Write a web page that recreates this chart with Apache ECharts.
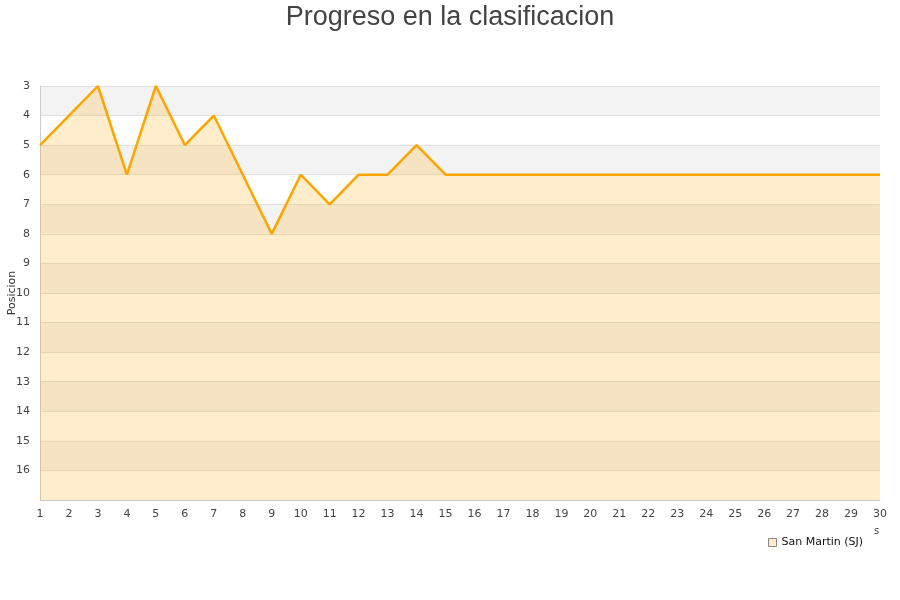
<!DOCTYPE html>
<html>
<head>
<meta charset="utf-8">
<script src="https://cdn.jsdelivr.net/npm/echarts@6/dist/echarts.min.js"></script>
<style>html,body{margin:0;padding:0;background:#fff}#c{width:900px;height:600px}</style>
</head>
<body>
<div id="c"></div>
<script>
var jornadas = ['1','2','3','4','5','6','7','8','9','10','11','12','13','14','15','16','17','18','19','20','21','22','23','24','25','26','27','28','29','30'];
var posiciones = [5,4,3,6,3,5,4,6,8,6,7,6,6,5,6,6,6,6,6,6,6,6,6,6,6,6,6,6,6,6];
var serieNombre = 'San Martin (SJ)';
var titulo = 'Progreso en la clasificacion';

var chart = echarts.init(document.getElementById('c'));
chart.setOption({
  animation: false,
  title: {
    text: titulo, left: 'center', top: -1,
    textStyle: {fontFamily: 'Liberation Sans', fontSize: 27, fontWeight: 'normal', color: '#444'}
  },
  legend: {
    data: [{name: serieNombre, icon: 'rect', itemStyle: {color: '#feebc9', borderColor: '#888', borderWidth: 1}}],
    left: 763, top: 532, itemWidth: 8, itemHeight: 8, itemGap: 10,
    textStyle: {fontFamily: 'DejaVu Sans', fontSize: 11, color: '#111'}
  },
  grid: {left: 40, right: 20, top: 86, bottom: 100, containLabel: false, outerBoundsMode: 'none'},
  xAxis: {
    type: 'category', data: jornadas, boundaryGap: false,
    name: 's', nameLocation: 'end', nameGap: -6,
    nameTextStyle: {fontFamily: 'DejaVu Sans', fontSize: 10, color: '#444', padding: [26, 0, 0, 0], verticalAlign: 'top'},
    axisLine: {lineStyle: {color: '#ccc'}},
    axisTick: {show: false},
    axisLabel: {fontFamily: 'DejaVu Sans', fontSize: 11, color: '#444', margin: 9, interval: 0},
    splitLine: {show: false}
  },
  yAxis: {
    type: 'value', inverse: true, min: 3, max: 17, interval: 1,
    name: 'Posicion', nameLocation: 'middle', nameGap: 22, nameMoveOverlap: false,
    nameTextStyle: {fontFamily: 'DejaVu Sans', fontSize: 11, color: '#333'},
    axisLine: {show: true, lineStyle: {color: '#ccc'}},
    axisTick: {show: false},
    axisLabel: {fontFamily: 'DejaVu Sans', fontSize: 11, color: '#444', margin: 10,
      formatter: function (v) { return v === 17 ? '' : v; }},
    splitLine: {show: true, lineStyle: {color: '#e0e0e0'}},
    splitArea: {show: true, areaStyle: {color: ['#f3f3f3', '#ffffff']}}
  },
  series: [{
    name: serieNombre, type: 'line', data: posiciones,
    showSymbol: false, symbol: 'none',
    lineStyle: {color: '#ffa500', width: 2.5},
    itemStyle: {color: '#ffa500'},
    areaStyle: {color: 'rgba(255,165,0,0.2)', opacity: 1, origin: 'end'}
  }]
});
</script>
</body>
</html>
